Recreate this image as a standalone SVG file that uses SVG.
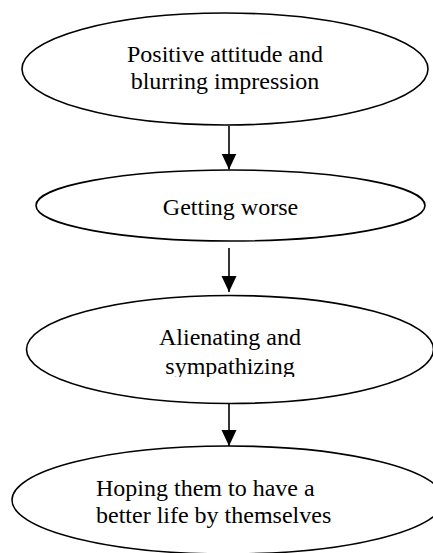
<svg xmlns="http://www.w3.org/2000/svg" width="433" height="553" viewBox="0 0 433 553">
<style>
.node ellipse{fill:#fff;stroke:#000;stroke-width:1.6}
.lbl{font-family:"Liberation Serif","Times New Roman",serif;font-size:24px;fill:#000}
.c{text-anchor:middle}
.edge{stroke:#000;stroke-width:1.6;fill:none}
</style>
<defs>
<marker id="ah" markerUnits="userSpaceOnUse" markerWidth="17" markerHeight="16" refX="16" refY="7.5" orient="auto">
<path d="M0,0 L16,7.5 L0,15 z" fill="#000"/>
</marker>
<clipPath id="clip3"><rect x="0" y="300" width="433" height="77"/></clipPath>
</defs>
<rect width="433" height="553" fill="#fff"/>
<g id="connectors">
<line class="edge" x1="229" y1="126" x2="229" y2="169.5" marker-end="url(#ah)"/>
<line class="edge" x1="229" y1="248" x2="229" y2="292" marker-end="url(#ah)"/>
<line class="edge" x1="229" y1="402" x2="229" y2="446" marker-end="url(#ah)"/>
</g>
<g id="node1" class="node">
<ellipse cx="225" cy="69" rx="203" ry="56"/>
<text class="lbl c" x="225" y="62">Positive attitude and</text>
<text class="lbl c" x="225" y="89">blurring impression</text>
</g>
<g id="node2" class="node">
<ellipse cx="230.5" cy="205.5" rx="194.5" ry="35.5"/>
<text class="lbl c" x="230.5" y="215">Getting worse</text>
</g>
<g id="node3" class="node">
<ellipse cx="230" cy="349.5" rx="203.5" ry="54"/>
<g clip-path="url(#clip3)">
<text class="lbl c" x="230" y="345">Alienating and</text>
<text class="lbl c" x="230" y="374">sympathizing</text>
</g>
</g>
<g id="node4" class="node">
<ellipse cx="228" cy="500" rx="216" ry="54"/>
<text class="lbl" x="96" y="496">Hoping them to have a</text>
<text class="lbl" x="96" y="523">better life by themselves</text>
</g>
</svg>
